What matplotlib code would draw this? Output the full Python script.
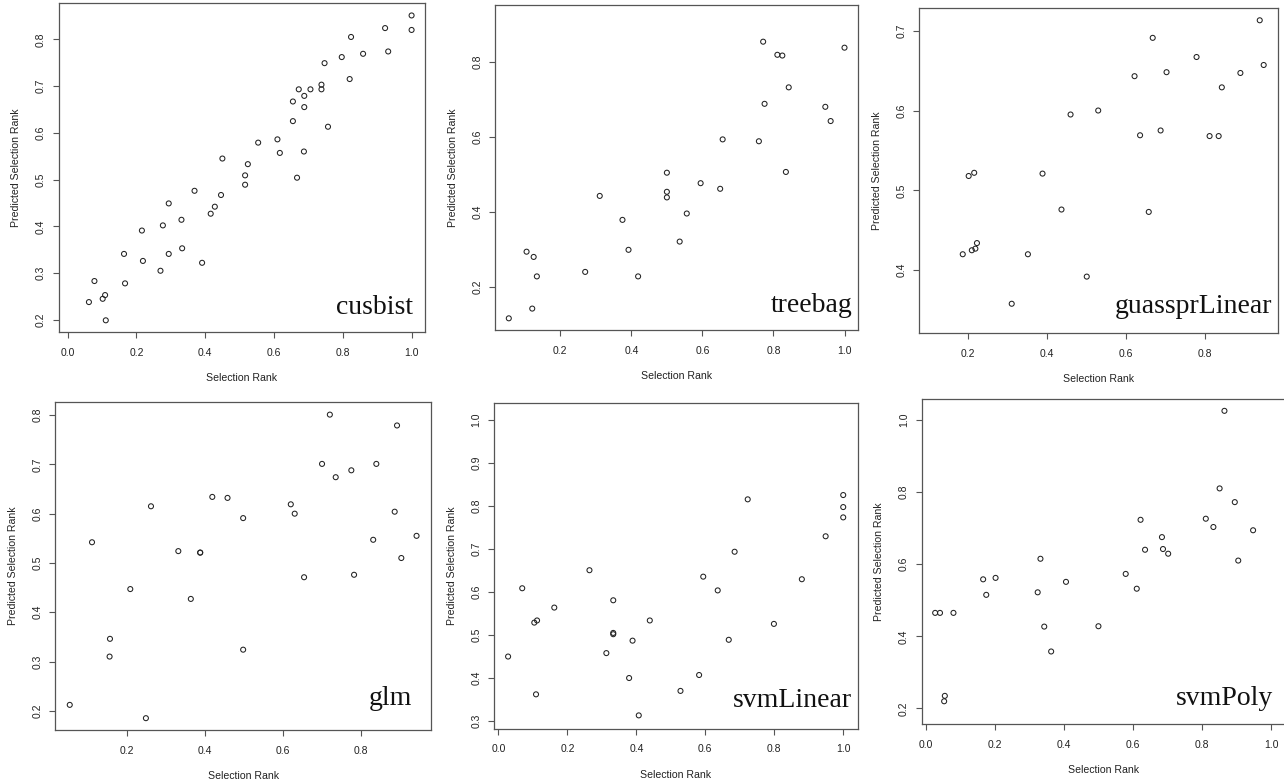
import matplotlib.pyplot as plt

plt.rcParams['font.family'] = ['Liberation Sans', 'DejaVu Sans']

# ---- data (Selection Rank vs Predicted Selection Rank) ----
cubist_rank = [0.062, 0.078, 0.102, 0.109, 0.111, 0.164, 0.167, 0.216, 0.219, 0.270,
               0.277, 0.294, 0.294, 0.331, 0.333, 0.369, 0.391, 0.416, 0.428, 0.446,
               0.450, 0.516, 0.516, 0.524, 0.554, 0.610, 0.617, 0.655, 0.655, 0.667,
               0.672, 0.688, 0.688, 0.687, 0.706, 0.738, 0.738, 0.747, 0.757, 0.797,
               0.820, 0.824, 0.859, 0.923, 0.932, 1.000, 1.000]
cubist_pred = [0.238, 0.283, 0.245, 0.253, 0.199, 0.341, 0.278, 0.391, 0.326, 0.305,
               0.402, 0.449, 0.341, 0.414, 0.353, 0.476, 0.322, 0.427, 0.442, 0.467,
               0.545, 0.509, 0.489, 0.533, 0.579, 0.586, 0.557, 0.667, 0.625, 0.504,
               0.693, 0.679, 0.655, 0.560, 0.693, 0.703, 0.693, 0.749, 0.613, 0.762,
               0.715, 0.805, 0.769, 0.824, 0.774, 0.851, 0.820]

treebag_rank = [0.055, 0.105, 0.121, 0.125, 0.134, 0.270, 0.311, 0.375, 0.392, 0.419,
                0.500, 0.500, 0.500, 0.536, 0.556, 0.595, 0.650, 0.657, 0.759, 0.771,
                0.775, 0.811, 0.825, 0.835, 0.843, 0.946, 0.961, 1.000]
treebag_pred = [0.115, 0.293, 0.141, 0.279, 0.227, 0.239, 0.442, 0.378, 0.298, 0.227,
                0.504, 0.453, 0.438, 0.320, 0.395, 0.476, 0.461, 0.593, 0.588, 0.854,
                0.688, 0.819, 0.817, 0.506, 0.732, 0.680, 0.642, 0.838]

gauss_rank = [0.186, 0.201, 0.209, 0.215, 0.218, 0.222, 0.310, 0.351, 0.388, 0.436,
              0.459, 0.500, 0.529, 0.621, 0.635, 0.657, 0.667, 0.687, 0.702, 0.778,
              0.811, 0.834, 0.842, 0.889, 0.938, 0.948]
gauss_pred = [0.420, 0.518, 0.425, 0.522, 0.427, 0.434, 0.358, 0.420, 0.521, 0.476,
              0.595, 0.392, 0.600, 0.643, 0.569, 0.473, 0.691, 0.575, 0.648, 0.667,
              0.568, 0.568, 0.629, 0.647, 0.713, 0.657]

glm_rank = [0.054, 0.111, 0.156, 0.157, 0.209, 0.249, 0.262, 0.332, 0.364, 0.388,
            0.388, 0.419, 0.458, 0.498, 0.498, 0.620, 0.630, 0.654, 0.700, 0.720,
            0.735, 0.775, 0.782, 0.831, 0.839, 0.886, 0.892, 0.903, 0.942]
glm_pred = [0.212, 0.542, 0.310, 0.346, 0.447, 0.185, 0.615, 0.524, 0.427, 0.521,
            0.521, 0.634, 0.632, 0.591, 0.324, 0.619, 0.600, 0.471, 0.701, 0.801,
            0.674, 0.688, 0.476, 0.547, 0.701, 0.604, 0.779, 0.510, 0.555]

svml_rank = [0.028, 0.069, 0.104, 0.109, 0.112, 0.162, 0.264, 0.313, 0.333, 0.333,
             0.333, 0.379, 0.389, 0.407, 0.439, 0.528, 0.582, 0.594, 0.636, 0.668,
             0.685, 0.723, 0.799, 0.880, 0.949, 1.000, 1.000, 1.000]
svml_pred = [0.449, 0.608, 0.528, 0.361, 0.533, 0.563, 0.650, 0.457, 0.580, 0.504,
             0.501, 0.399, 0.486, 0.312, 0.533, 0.369, 0.406, 0.635, 0.603, 0.488,
             0.693, 0.815, 0.525, 0.629, 0.729, 0.825, 0.797, 0.773]

svmp_rank = [0.027, 0.041, 0.055, 0.053, 0.080, 0.166, 0.175, 0.202, 0.324, 0.332,
             0.343, 0.363, 0.406, 0.500, 0.579, 0.611, 0.622, 0.635, 0.684, 0.687,
             0.702, 0.811, 0.833, 0.851, 0.865, 0.895, 0.905, 0.948]
svmp_pred = [0.465, 0.465, 0.235, 0.220, 0.465, 0.558, 0.515, 0.562, 0.522, 0.615,
             0.427, 0.358, 0.551, 0.428, 0.573, 0.532, 0.723, 0.640, 0.675, 0.642,
             0.629, 0.726, 0.703, 0.810, 1.025, 0.772, 0.610, 0.694]

model_names = ['cusbist', 'treebag', 'guassprLinear', 'glm', 'svmLinear', 'svmPoly']
x_data = [cubist_rank, treebag_rank, gauss_rank, glm_rank, svml_rank, svmp_rank]
y_data = [cubist_pred, treebag_pred, gauss_pred, glm_pred, svml_pred, svmp_pred]

x_ticks = [[0.0, 0.2, 0.4, 0.6, 0.8, 1.0],
           [0.2, 0.4, 0.6, 0.8, 1.0],
           [0.2, 0.4, 0.6, 0.8],
           [0.2, 0.4, 0.6, 0.8],
           [0.0, 0.2, 0.4, 0.6, 0.8, 1.0],
           [0.0, 0.2, 0.4, 0.6, 0.8, 1.0]]
y_ticks = [[0.2, 0.3, 0.4, 0.5, 0.6, 0.7, 0.8],
           [0.2, 0.4, 0.6, 0.8],
           [0.4, 0.5, 0.6, 0.7],
           [0.2, 0.3, 0.4, 0.5, 0.6, 0.7, 0.8],
           [0.3, 0.4, 0.5, 0.6, 0.7, 0.8, 0.9, 1.0],
           [0.2, 0.4, 0.6, 0.8, 1.0]]

# ---- layout (pixels: left, top, right, bottom) and axis ranges ----
W, H = 1284, 781
boxes = [(59, 3.3, 425, 332), (495.3, 5, 858, 330.3), (919.3, 8.3, 1278.3, 333.3),
         (55.3, 402.3, 431, 730), (494.3, 402.7, 857.7, 728.7), (921.7, 399.3, 1284.5, 724)]
xlims = [(-0.025, 1.039), (0.017, 1.038), (0.076, 0.985),
         (0.017, 0.979), (-0.012, 1.042), (-0.012, 1.039)]
ylims = [(0.174, 0.877), (0.083, 0.952), (0.321, 0.728),
         (0.161, 0.826), (0.281, 1.040), (0.157, 1.057)]
name_pos = [(12, 18), (5, 18), (6, 20), (19, 25), (6, 22), (11, 19)]  # px from right / bottom

fig = plt.figure(figsize=(W / 100, H / 100), dpi=100)

for i in range(6):
    l, t, r, b = boxes[i]
    ax = fig.add_axes([l / W, (H - b) / H, (r - l) / W, (b - t) / H])
    ax.scatter(x_data[i], y_data[i], s=13, facecolors='none', edgecolors='#222222',
               linewidths=0.75, zorder=3)
    ax.set_xlim(*xlims[i])
    ax.set_ylim(*ylims[i])
    ax.set_xticks(x_ticks[i])
    ax.set_xticklabels(['%.1f' % v for v in x_ticks[i]])
    ax.set_yticks(y_ticks[i])
    ax.set_yticklabels(['%.1f' % v for v in y_ticks[i]], rotation=90, va='center')
    for sp in ax.spines.values():
        sp.set_color('#555555')
        sp.set_linewidth(0.9)
    ax.tick_params(direction='out', length=4.3, width=0.8, color='#555555',
                   labelsize=7.5, labelcolor='#222222')
    ax.tick_params(axis='x', pad=7)
    ax.tick_params(axis='y', pad=5)
    ax.set_xlabel('Selection Rank', fontsize=7.6, color='#222222', labelpad=11)
    ax.set_ylabel('Predicted Selection Rank', fontsize=7.6, color='#222222', labelpad=10.5)

    dx, dy = name_pos[i]
    ax.text(1 - dx / (r - l), dy / (b - t), model_names[i], transform=ax.transAxes,
            ha='right', va='baseline', fontsize=20, family='Liberation Serif',
            color='#111111')

fig.savefig('out.png', dpi=100)
